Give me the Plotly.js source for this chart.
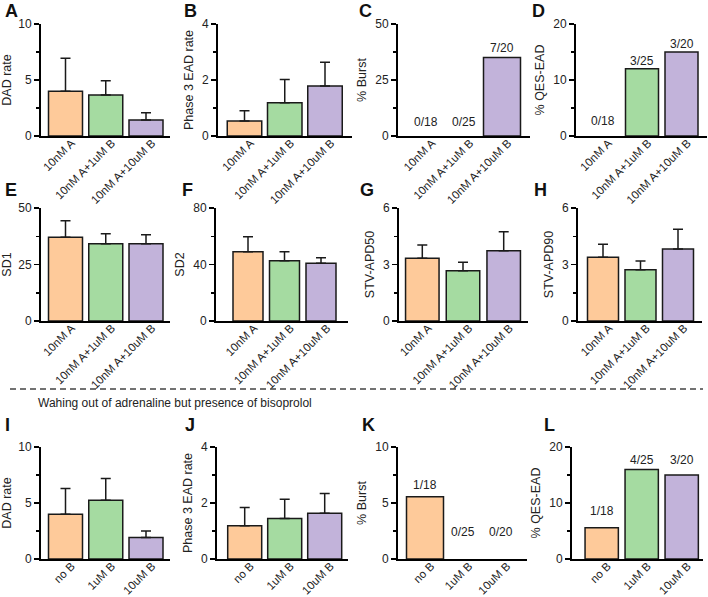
<!DOCTYPE html>
<html lang="en">
<head>
    <meta charset="UTF-8">
    <title>DAD / EAD panels</title>
    <script src="https://cdn.plot.ly/plotly-3.0.1.min.js"></script>
    <style>
        html, body { margin: 0; padding: 0; background: #fff; }
        #chart { width: 708px; height: 597px; }
    </style>
</head>
<body>
    <div id="chart"></div>

    <script>
        // group names
        const groupsAdr = ['10nM A', '10nM A+1uM B', '10nM A+10uM B'];
        const groupsWash = ['no B', '1uM B', '10uM B'];

        // top two rows: with adrenaline
        const dadMean = [4.0, 3.66, 1.43];
        const dadErr = [2.94, 1.28, 0.65];
        const ead3Mean = [0.54, 1.19, 1.79];
        const ead3Err = [0.36, 0.83, 0.84];
        const burstPct = [0, 0, 35];
        const burstLabels = ['0/18', '0/25', '7/20'];
        const qesPct = [0, 12, 15];
        const qesLabels = ['0/18', '3/25', '3/20'];
        const sd1Mean = [37.1, 34.2, 34.2];
        const sd1Err = [7.3, 4.4, 4.0];
        const sd2Mean = [49.1, 42.7, 40.8];
        const sd2Err = [10.6, 6.4, 4.0];
        const apd50Mean = [3.33, 2.67, 3.73];
        const apd50Err = [0.71, 0.45, 1.01];
        const apd90Mean = [3.38, 2.72, 3.82];
        const apd90Err = [0.69, 0.47, 1.05];

        // bottom row: washout
        const washDadMean = [4.0, 5.25, 1.93];
        const washDadErr = [2.3, 1.94, 0.56];
        const washEadMean = [1.19, 1.45, 1.63];
        const washEadErr = [0.65, 0.68, 0.71];
        const washBurstPct = [5.56, 0, 0];
        const washBurstLabels = ['1/18', '0/25', '0/20'];
        const washQesPct = [5.56, 16, 15];
        const washQesLabels = ['1/18', '4/25', '3/20'];

        const colors = ['#FECA9A', '#A5DBA1', '#C2B3DA'];
        const font = 'Arial, "Liberation Sans", sans-serif';
        const W = 708, H = 597;

        // panel layout in pixels: axis left/right, top/bottom, first bar centre, spacing, bar width
        const panels = [
            { letter: 'A', lx: 3,   ly: 11,  title: 'DAD rate', ymax: 10, groups: groupsAdr, y: dadMean, err: dadErr,
              axL: 41, axR: 170, top: 24, bot: 136, c0: 65.5, sp: 40.25, bw: 34 },
            { letter: 'B', lx: 182, ly: 11,  title: 'Phase 3 EAD rate', ymax: 4, groups: groupsAdr, y: ead3Mean, err: ead3Err,
              axL: 218, axR: 352, top: 24, bot: 136, c0: 244.5, sp: 40.25, bw: 34.5 },
            { letter: 'C', lx: 357, ly: 11,  title: '% Burst', ymax: 50, groups: groupsAdr, y: burstPct, labels: burstLabels, shifts: [14, 14, 10],
              axL: 398, axR: 530, top: 24, bot: 136, c0: 426, sp: 38, bw: 37 },
            { letter: 'D', lx: 530, ly: 11,  title: '% QES-EAD', ymax: 20, groups: groupsAdr, y: qesPct, labels: qesLabels, shifts: [15, 8, 8],
              axL: 576, axR: 707, top: 24, bot: 136, c0: 602.5, sp: 39.5, bw: 33 },
            { letter: 'E', lx: 3,   ly: 190, title: 'SD1', ymax: 50, groups: groupsAdr, y: sd1Mean, err: sd1Err,
              axL: 41, axR: 170, top: 208, bot: 321, c0: 65.5, sp: 40.25, bw: 34 },
            { letter: 'F', lx: 180, ly: 190, title: 'SD2', ymax: 80, groups: groupsAdr, y: sd2Mean, err: sd2Err,
              axL: 216, axR: 348, top: 208, bot: 321, c0: 248, sp: 36.5, bw: 30 },
            { letter: 'G', lx: 358, ly: 190, title: 'STV-APD50', ymax: 6, groups: groupsAdr, y: apd50Mean, err: apd50Err,
              axL: 399, axR: 528, top: 208, bot: 321, c0: 422.3, sp: 40.7, bw: 33.5 },
            { letter: 'H', lx: 532, ly: 190, title: 'STV-APD90', ymax: 6, groups: groupsAdr, y: apd90Mean, err: apd90Err,
              axL: 578, axR: 702, top: 208, bot: 321, c0: 603, sp: 37.5, bw: 31 },
            { letter: 'I', lx: 3,   ly: 425, title: 'DAD rate', ymax: 10, groups: groupsWash, y: washDadMean, err: washDadErr,
              axL: 41, axR: 170, top: 447, bot: 559, c0: 65.5, sp: 40.25, bw: 34 },
            { letter: 'J', lx: 183, ly: 425, title: 'Phase 3 EAD rate', ymax: 4, groups: groupsWash, y: washEadMean, err: washEadErr,
              axL: 217, axR: 348, top: 447, bot: 559, c0: 244.7, sp: 40, bw: 34 },
            { letter: 'K', lx: 360, ly: 425, title: '% Burst', ymax: 10, groups: groupsWash, y: washBurstPct, labels: washBurstLabels, shifts: [12, 27, 27],
              axL: 398, axR: 527, top: 447, bot: 559, c0: 425, sp: 38, bw: 37 },
            { letter: 'L', lx: 542, ly: 425, title: '% QES-EAD', ymax: 20, groups: groupsWash, y: washQesPct, labels: washQesLabels, shifts: [17, 9, 15],
              axL: 572, axR: 703, top: 447, bot: 559, c0: 601.7, sp: 40, bw: 33.3 }
        ];

        const data = [];
        const layout = {
            width: W, height: H,
            margin: { l: 0, r: 0, t: 0, b: 0 },
            paper_bgcolor: '#fff', plot_bgcolor: '#fff',
            showlegend: false,
            font: { family: font, size: 11, color: '#222' },
            annotations: [],
            shapes: []
        };

        panels.forEach((p, i) => {
            const n = i + 1;
            const xa = 'x' + (n === 1 ? '' : n), ya = 'y' + (n === 1 ? '' : n);
            const xKey = 'xaxis' + (n === 1 ? '' : n), yKey = 'yaxis' + (n === 1 ? '' : n);
            const xs = p.y.map((_, k) => k);

            const trace = {
                type: 'bar', x: xs, y: p.y, xaxis: xa, yaxis: ya,
                width: p.bw / p.sp,
                // empty bars (0 %) get no outline, as in the figure
                marker: { color: colors, line: { color: '#1a1a1a', width: p.y.map(v => v > 0 ? 1.5 : 0) } },
                hoverinfo: 'y'
            };
            if (p.err) {
                trace.error_y = {
                    type: 'data', symmetric: false, array: p.err, arrayminus: p.err.map(() => 0),
                    color: '#1a1a1a', thickness: 1.5, width: 5
                };
            }
            data.push(trace);

            layout[xKey] = {
                domain: [p.axL / W, p.axR / W],
                anchor: ya,
                range: [(p.axL - p.c0) / p.sp, (p.axR - p.c0) / p.sp],
                tickmode: 'array', tickvals: xs, ticktext: p.groups,
                tickangle: -45, ticks: '', showgrid: false, zeroline: false,
                ticklabelstandoff: -6, ticklabelshift: 6,
                showline: true, linecolor: '#000', linewidth: 2,
                tickfont: { size: 11.5, color: '#222' }, fixedrange: true
            };
            layout[yKey] = {
                domain: [1 - p.bot / H, 1 - p.top / H],
                anchor: xa,
                range: [0, p.ymax],
                tickmode: 'linear', tick0: 0, dtick: p.ymax / 2,
                ticks: 'outside', ticklen: 5, tickwidth: 1.5, tickcolor: '#000',
                minor: { dtick: p.ymax / 4, ticks: 'outside', ticklen: 3, tickwidth: 1.5, tickcolor: '#000' },
                showgrid: false, zeroline: false,
                showline: true, linecolor: '#000', linewidth: 2,
                tickfont: { size: 12, color: '#222' },
                title: { text: p.title, font: { size: 12.5, color: '#222' }, standoff: 6 },
                fixedrange: true
            };

            // panel letter
            layout.annotations.push({
                xref: 'paper', yref: 'paper', x: p.lx / W, y: 1 - p.ly / H,
                xanchor: 'left', yanchor: 'middle', showarrow: false,
                text: '<b>' + p.letter + '</b>', font: { size: 18, color: '#111' }
            });

            // n/N labels above bars
            if (p.labels) {
                p.labels.forEach((t, k) => {
                    layout.annotations.push({
                        xref: xa, yref: ya, x: k, y: p.y[k],
                        yanchor: 'middle', yshift: p.shifts[k], showarrow: false,
                        text: t, font: { size: 12, color: '#222' }
                    });
                });
            }
        });

        // separator between adrenaline and washout rows
        layout.shapes.push({
            type: 'line', xref: 'paper', yref: 'paper',
            x0: 10 / W, x1: 703 / W, y0: 1 - 389 / H, y1: 1 - 389 / H,
            line: { color: '#444', width: 1.5, dash: '6px,4px' }
        });
        layout.annotations.push({
            xref: 'paper', yref: 'paper', x: 175 / W, y: 1 - 403 / H,
            xanchor: 'center', yanchor: 'middle', showarrow: false,
            text: 'Wahing out of adrenaline but presence of bisoprolol',
            font: { size: 12, color: '#222' }
        });

        Plotly.newPlot('chart', data, layout, { displayModeBar: false, staticPlot: true });
    </script>
</body>
</html>
